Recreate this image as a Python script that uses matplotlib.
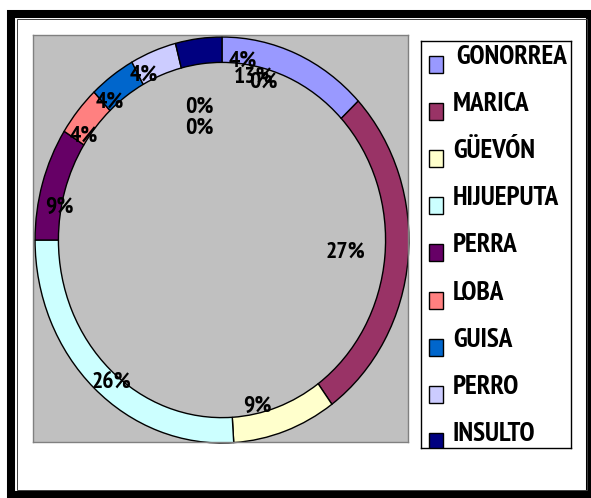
import matplotlib
matplotlib.use("Agg")
import matplotlib.pyplot as plt
from matplotlib.patches import Rectangle

plt.rcParams["font.family"] = ["PT Sans Narrow", "DejaVu Sans"]

# data
categorias = ["GONORREA", "MARICA", "GÜEVÓN", "HIJUEPUTA", "PERRA",
              "LOBA", "GUISA", "PERRO", "INSULTO"]
porcentajes = [13, 27, 9, 26, 9, 4, 4, 4, 4]
colores = ["#9999FF", "#993366", "#FFFFCC", "#CCFFFF", "#660066",
           "#FF8080", "#0066CC", "#CCCCFF", "#000080"]

# label spots (Excel put them a bit oddly)
etiquetas_xy = [(0.17, 0.80), (0.66, -0.06), (0.19, -0.82), (-0.59, -0.70),
                (-0.87, 0.16), (-0.74, 0.51), (-0.60, 0.68), (-0.42, 0.81),
                (0.11, 0.88)]
# labels of the empty inner series
extra_txt = ["0%", "0%", "0%"]
extra_xy = [(0.22, 0.78), (-0.12, 0.655), (-0.12, 0.55)]

W, H = 591, 498
fig = plt.figure(figsize=(W / 100, H / 100), dpi=100)

# outer frame (thick line plus a thin one just inside)
fig.patches.append(Rectangle((11 / W, 3 / H), 579 / W, 481 / H,
                             transform=fig.transFigure, fill=False,
                             edgecolor="black", linewidth=5.8))
fig.patches.append(Rectangle((16.5 / W, 8.5 / H), 570 / W, 470 / H,
                             transform=fig.transFigure, fill=False,
                             edgecolor="#404040", linewidth=0.7))

# plot area
ax = fig.add_axes([33 / W, 1 - 442 / H, 375 / W, 407 / H])
wedges, _ = ax.pie(porcentajes, colors=colores, startangle=90, counterclock=False,
                   radius=1.0, wedgeprops=dict(width=0.125, edgecolor="black",
                                               linewidth=1.0))
for w in wedges:
    w.set_clip_on(False)
ax.set_aspect("auto")
ax.set_xlim(-1.011, 0.995)
ax.set_ylim(-0.995, 1.01)
ax.set_frame_on(True)
ax.set_facecolor("#C0C0C0")
for s in ax.spines.values():
    s.set_color("#808080")
    s.set_linewidth(1.0)
ax.set_xticks([])
ax.set_yticks([])

for p, (x, y) in zip(porcentajes, etiquetas_xy):
    ax.text(x, y, f"{p}%", ha="center", va="center", fontsize=17,
            fontweight="bold", color="black")
for t, (x, y) in zip(extra_txt, extra_xy):
    ax.text(x, y, t, ha="center", va="center", fontsize=17,
            fontweight="bold", color="black")

# legend box
lg = fig.add_axes([421 / W, 1 - 448 / H, 150 / W, 407 / H])
lg.set_xlim(0, 150)
lg.set_ylim(407, 0)
lg.set_xticks([])
lg.set_yticks([])
for s in lg.spines.values():
    s.set_color("black")
    s.set_linewidth(1.0)
for i, (cat, col) in enumerate(zip(categorias, colores)):
    yc = 16 + i * 47.1
    lg.add_patch(Rectangle((8, yc - 1), 14, 17, facecolor=col,
                           edgecolor="black", linewidth=1.0))
    lg.text(35 if i == 0 else 32, yc, cat, ha="left", va="center",
            fontsize=19.5, fontweight="bold")

fig.savefig("out.png", dpi=100)
